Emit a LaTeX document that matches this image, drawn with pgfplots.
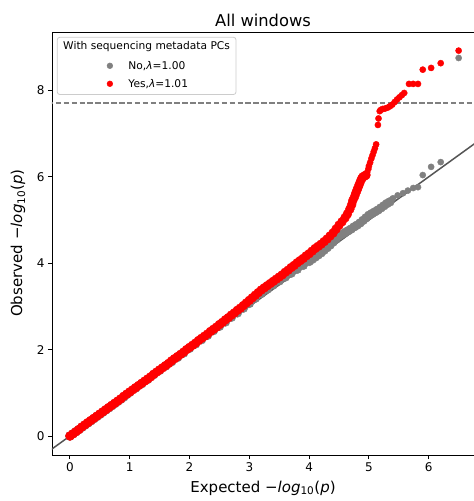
\documentclass[border=0pt]{standalone}
\usepackage{fontspec}
\setmainfont{DejaVu Sans}
\usepackage{pgfplots}
\pgfplotsset{compat=1.18}
\definecolor{ptred}{HTML}{FF0000}
\definecolor{ptgray}{HTML}{808080}
\definecolor{diag}{HTML}{555555}
\definecolor{legframe}{HTML}{CCCCCC}
\begin{document}
\begin{tikzpicture}[x=1pt,y=1pt]
% legend frame and title (text)
\draw[legframe, fill=white, line width=0.8pt, rounded corners=2.5pt] (57.3,-37.3) rectangle (236,-94.5);
\node[font=\fontsize{10.66}{12}\selectfont, anchor=center] at (146.6,-46.7) {With sequencing metadata PCs};
\begin{axis}[
  at={(52pt,-455pt)}, anchor=south west,
  x=59.8pt, y=43.2pt,
  xmin=-0.3, xmax=6.8, ymin=-0.44, ymax=9.35,
  axis line style={black, line width=0.9pt},
  xtick={0,1,2,3,4,5,6}, ytick={0,2,4,6,8},
  tick align=outside, xtick pos=left, ytick pos=left,
  major tick length=4pt,
  every tick/.style={black, line width=0.9pt},
  tick label style={font=\fontsize{12}{14}\selectfont},
  /pgf/number format/assume math mode=true,
  title={All windows},
  title style={font=\fontsize{16.3}{18}\selectfont, at={(axis description cs:0.497,1)}, anchor=center, yshift=6pt},
  xlabel={Expected −\textit{log}\textsubscript{10}(\textit{p})},
  ylabel={Observed −\textit{log}\textsubscript{10}(\textit{p})},
  label style={font=\fontsize{15}{17}\selectfont},
  xlabel style={at={(axis description cs:0.497,-0.078)}, anchor=center},
  ylabel style={at={(axis description cs:-0.080,0.501)}, anchor=center, rotate=0},
  legend style={at={(axis description cs:0.1295,0.9316)}, anchor=north west, draw=none, fill=none,
    inner sep=0pt, outer sep=0pt, row sep=8.4pt, font=\fontsize{10.66}{12}\selectfont,
    nodes={inner sep=0pt},
    /tikz/every odd column/.append style={column sep=15.7pt}},
  legend cell align=left,
  legend image code/.code={\draw[#1, mark size=2.9pt] plot coordinates {(0pt,0pt)};},
]
% No (gray): dense part
\addplot[only marks, mark=*, mark size=4.5pt, ptgray, mark options={draw=ptgray, fill=ptgray}] coordinates {
(0.00,0.00)(0.05,0.05)(0.10,0.10)(0.15,0.15)(0.20,0.20)(0.25,0.25)(0.30,0.30)(0.35,0.35)(0.40,0.40)(0.45,0.45)
(0.50,0.50)(0.55,0.55)(0.60,0.60)(0.65,0.65)(0.70,0.70)(0.75,0.75)(0.80,0.80)(0.85,0.85)(0.90,0.90)(0.95,0.96)
(1.00,1.01)(1.10,1.11)(1.20,1.21)(1.30,1.31)(1.40,1.42)(1.50,1.52)(1.60,1.62)(1.70,1.72)(1.80,1.82)(1.90,1.92)
(2.00,2.03)(2.10,2.13)(2.20,2.23)(2.30,2.33)(2.40,2.44)(2.50,2.54)(2.60,2.64)(2.70,2.75)(2.80,2.85)(2.90,2.96)
(3.00,3.07)(3.10,3.19)(3.20,3.30)(3.30,3.40)(3.40,3.50)(3.50,3.59)(3.60,3.68)(3.70,3.77)(3.80,3.86)(3.90,3.95)
(4.00,4.04)(4.05,4.09)(4.10,4.14)(4.15,4.19)(4.20,4.24)(4.25,4.30)(4.30,4.36)(4.35,4.42)(4.40,4.49)(4.45,4.56)
(4.50,4.63)(4.55,4.67)(4.60,4.71)(4.65,4.75)(4.70,4.79)(4.75,4.84)(4.80,4.88)(4.85,4.93)(4.90,4.99)(4.95,5.05)
(5.00,5.11)(5.05,5.15)(5.10,5.19)(5.15,5.23)(5.20,5.28)(5.25,5.33)(5.30,5.38)(5.35,5.42)
};
\addlegendentry{No,\textit{λ}=1.00}
% No (gray): sparse tail
\addplot[only marks, mark=*, mark size=3.1pt, ptgray, mark options={draw=ptgray, fill=ptgray}, forget plot] coordinates {
(5.40,5.50)(5.48,5.57)(5.57,5.62)(5.65,5.68)(5.74,5.74)(5.82,5.76)(5.90,6.04)(6.04,6.23)(6.20,6.34)(6.50,8.75)
};
% Yes (red): dense part
\addplot[only marks, mark=*, mark size=4.5pt, ptred, mark options={draw=ptred, fill=ptred}] coordinates {
(0.00,0.00)(0.05,0.05)(0.10,0.10)(0.15,0.15)(0.20,0.21)(0.25,0.26)(0.30,0.31)(0.35,0.36)(0.40,0.41)(0.45,0.46)
(0.50,0.51)(0.55,0.56)(0.60,0.61)(0.65,0.66)(0.70,0.71)(0.75,0.76)(0.80,0.81)(0.85,0.86)(0.90,0.92)(0.95,0.97)
(1.00,1.02)(1.05,1.07)(1.10,1.12)(1.15,1.17)(1.20,1.22)(1.25,1.27)(1.30,1.32)(1.35,1.37)(1.40,1.43)(1.45,1.48)
(1.50,1.53)(1.55,1.58)(1.60,1.63)(1.65,1.68)(1.70,1.74)(1.75,1.79)(1.80,1.84)(1.85,1.89)(1.90,1.94)(1.95,2.00)
(2.00,2.05)(2.05,2.10)(2.10,2.15)(2.15,2.21)(2.20,2.26)(2.25,2.31)(2.30,2.36)(2.35,2.42)(2.40,2.47)(2.45,2.52)
(2.50,2.58)(2.55,2.63)(2.60,2.69)(2.65,2.74)(2.70,2.80)(2.75,2.85)(2.80,2.91)(2.85,2.96)(2.90,3.02)(2.95,3.08)
(3.00,3.14)(3.05,3.20)(3.10,3.26)(3.15,3.32)(3.20,3.38)(3.25,3.43)(3.30,3.48)(3.35,3.53)(3.40,3.58)(3.45,3.63)
(3.50,3.68)(3.55,3.73)(3.60,3.79)(3.65,3.84)(3.70,3.90)(3.75,3.95)(3.80,4.01)(3.85,4.06)(3.90,4.11)(3.95,4.17)
(4.00,4.22)(4.05,4.28)(4.10,4.34)(4.15,4.39)(4.20,4.44)(4.25,4.50)(4.30,4.56)(4.35,4.63)(4.40,4.70)(4.45,4.79)
(4.50,4.88)(4.55,4.96)(4.60,5.05)(4.64,5.14)(4.68,5.25)(4.71,5.35)(4.73,5.45)(4.76,5.54)(4.78,5.62)(4.80,5.69)
(4.82,5.76)(4.84,5.83)(4.86,5.90)(4.88,5.96)(4.90,6.00)(4.93,6.02)(4.95,6.04)
};
\addlegendentry{Yes,\textit{λ}=1.01}
% Yes (red): sparse tail
\addplot[only marks, mark=*, mark size=3.1pt, ptred, mark options={draw=ptred, fill=ptred}, forget plot] coordinates {
(4.97,6.10)(4.99,6.18)(5.00,6.25)(5.02,6.33)(5.04,6.42)(5.06,6.50)(5.08,6.58)(5.10,6.66)(5.12,6.75)(5.15,7.20)
(5.16,7.35)(5.18,7.52)(5.20,7.55)(5.23,7.57)(5.27,7.58)(5.31,7.60)(5.35,7.63)(5.39,7.67)(5.43,7.73)(5.47,7.79)
(5.51,7.84)(5.55,7.89)(5.59,7.94)(5.67,8.15)(5.74,8.15)(5.82,8.15)(5.90,8.48)(6.04,8.52)(6.20,8.63)(6.50,8.92)
};
\addplot[diag, line width=1.5pt, forget plot] coordinates {(-0.5,-0.5)(7,7)};
\addplot[ptgray, line width=1.5pt, dash pattern=on 5.5pt off 2.4pt, forget plot] coordinates {(-0.5,7.71)(7,7.71)};
\end{axis}
\pgfresetboundingbox
\useasboundingbox (0,0) rectangle (474,-501);
\end{tikzpicture}
\end{document}
